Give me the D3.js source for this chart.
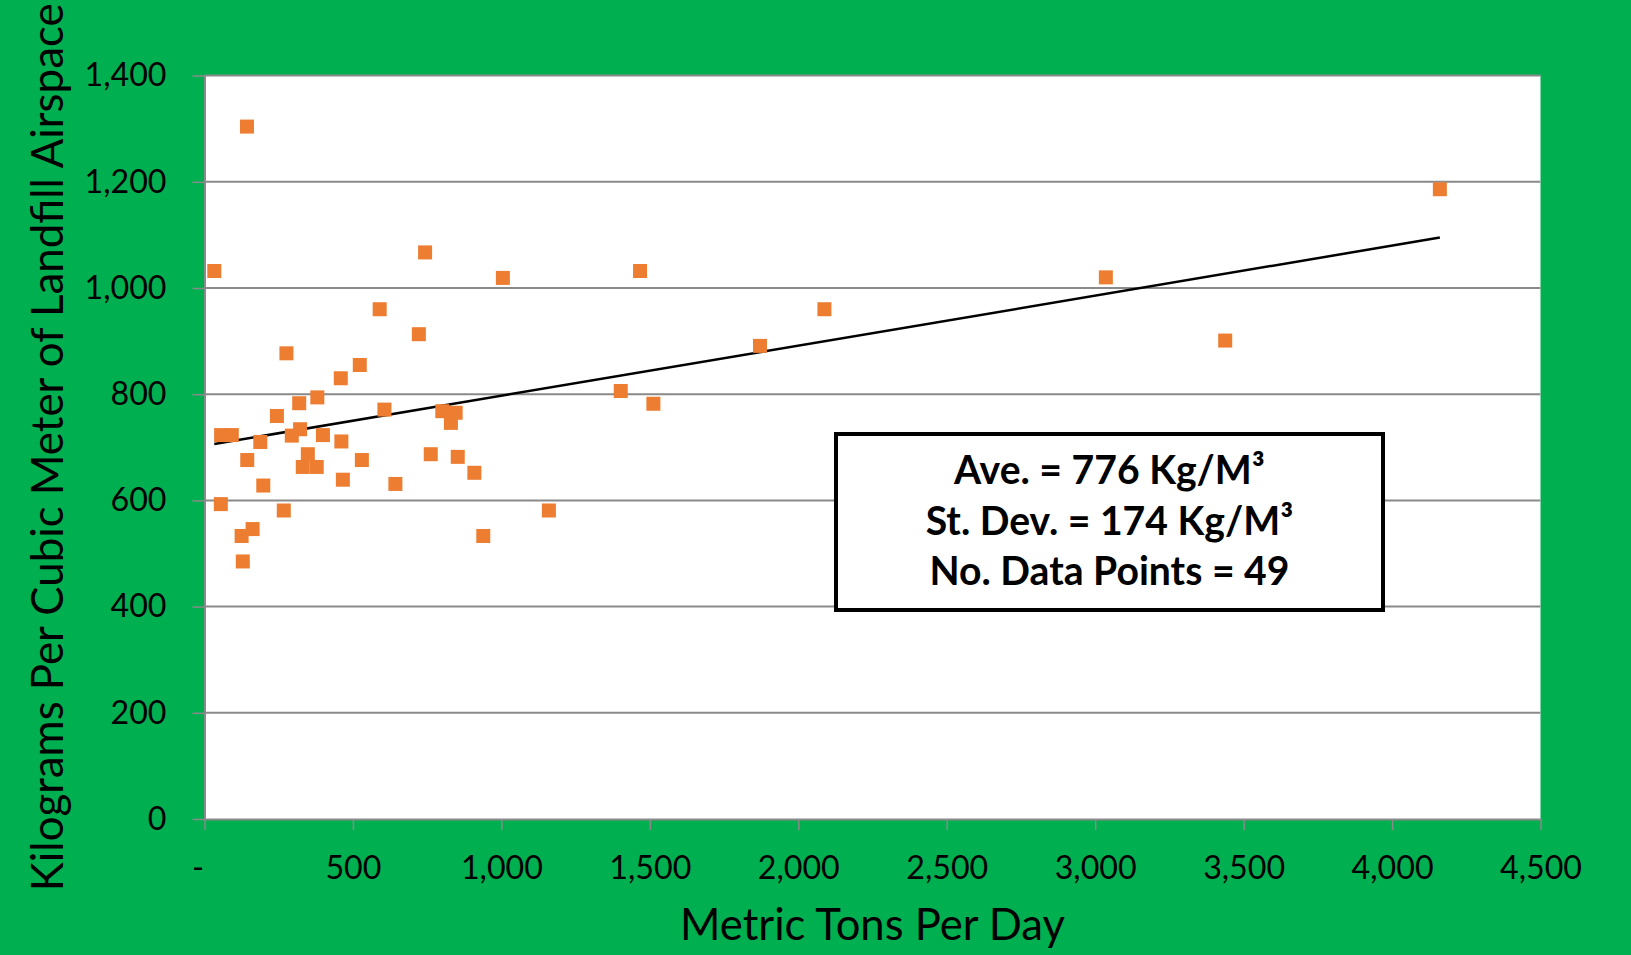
<!DOCTYPE html>
<html>
<head>
<meta charset="utf-8">
<script src="https://cdn.jsdelivr.net/npm/d3@7"></script>
<style>
  html, body { margin: 0; padding: 0; background: #00B050; }
  svg { display: block; }
  text { font-family: Lato, "Open Sans", sans-serif; fill: #000; }
</style>
</head>
<body>
<script>
// Metric tons per day received at each landfill
const tonsPerDay = [
  143, 743, 33, 590, 722, 276, 523, 459, 380, 319,
  244, 606, 801, 846, 830, 56, 92, 322, 294, 399,
  188, 461, 348, 331, 378, 144, 530, 762, 853, 909,
  198, 466, 643, 55, 267, 162, 125, 129, 939, 1005,
  1160, 1467, 1402, 1512, 1871, 2088, 3036, 3438, 4161
];
// Kilograms per cubic meter of landfill airspace (same order)
const kgPerM3 = [
  1304, 1067, 1032, 960, 913, 877, 855, 830, 794, 783,
  759, 771, 768, 765, 746, 723, 723, 734, 722, 723,
  710, 711, 687, 663, 663, 676, 676, 687, 682, 652,
  628, 639, 631, 593, 581, 546, 533, 485, 533, 1019,
  581, 1032, 806, 782, 891, 960, 1020, 901, 1186
];
// Linear trend line
const trendIntercept = 703;
const trendSlope = 0.0942;

const xTicks = [0, 500, 1000, 1500, 2000, 2500, 3000, 3500, 4000, 4500];
const yTicks = [0, 200, 400, 600, 800, 1000, 1200, 1400];
const statLines = ['Ave. = 776 Kg/M³', 'St. Dev. = 174 Kg/M³', 'No. Data Points = 49'];
const xTitle = 'Metric Tons Per Day';
const yTitle = 'Kilograms Per Cubic Meter of Landfill Airspace';

const width = 1631, height = 955;
const margin = {top: 75.6, right: 90.5, bottom: 136, left: 204.5};
const gridColor = '#8a8a8a';

const svg = d3.select('body').append('svg')
  .attr('width', width)
  .attr('height', height);

// green page background
svg.append('rect')
  .attr('width', width).attr('height', height)
  .attr('fill', '#00B050');

const x = d3.scaleLinear().domain([0, 4500]).range([margin.left, width - margin.right]);
const y = d3.scaleLinear().domain([0, 1400]).range([height - margin.bottom, margin.top]);

// white plot area
svg.append('rect')
  .attr('x', x(0)).attr('y', y(1400))
  .attr('width', x(4500) - x(0)).attr('height', y(0) - y(1400))
  .attr('fill', '#fff');

// horizontal gridlines
svg.append('g')
  .selectAll('line')
  .data(yTicks.filter(d => d > 0))
  .join('line')
  .attr('x1', x(0)).attr('x2', x(4500))
  .attr('y1', d => y(d)).attr('y2', d => y(d))
  .attr('stroke', gridColor)
  .attr('stroke-width', 2);

// size a label font so a sample string gets the wanted width
function fitFont(sample, target, weight) {
  const t = svg.append('text').attr('font-size', 100).attr('font-weight', weight || 400).text(sample);
  const w = t.node().getComputedTextLength();
  t.remove();
  return 100 * target / w;
}
const tickFont = fitFont('4,500', 82);

const fmt = d3.format(',');
const xAxis = svg.append('g')
  .attr('transform', 'translate(0,' + y(0) + ')')
  .call(d3.axisBottom(x).tickValues(xTicks)
    .tickFormat(d => d === 0 ? '-' : fmt(d))
    .tickSize(11).tickSizeOuter(0).tickPadding(26));
const yAxis = svg.append('g')
  .attr('transform', 'translate(' + x(0) + ',0)')
  .call(d3.axisLeft(y).tickValues(yTicks)
    .tickFormat(fmt)
    .tickSize(12).tickSizeOuter(0).tickPadding(26));

for (const ax of [xAxis, yAxis]) {
  ax.select('.domain').attr('stroke', gridColor).attr('stroke-width', 2);
  ax.selectAll('.tick line').attr('stroke', gridColor).attr('stroke-width', 1.5);
  ax.selectAll('.tick text')
    .attr('font-size', tickFont)
    .attr('font-family', 'Lato, "Open Sans", sans-serif')
    .attr('fill', '#000');
}
// Excel style dash for zero sits a little left of its tick
xAxis.selectAll('.tick text').filter(d => d === 0).attr('dx', -7);

// trend line across the data range
const xr = d3.extent(tonsPerDay);
svg.append('path')
  .datum(xr)
  .attr('d', d3.line().x(d => x(d)).y(d => y(trendIntercept + trendSlope * d)))
  .attr('stroke', '#000')
  .attr('stroke-width', 2.5)
  .attr('fill', 'none');

// square markers
const size = 14;
svg.append('g')
  .selectAll('rect')
  .data(d3.zip(tonsPerDay, kgPerM3))
  .join('rect')
  .attr('x', d => x(d[0]) - size / 2)
  .attr('y', d => y(d[1]) - size / 2)
  .attr('width', size).attr('height', size)
  .attr('fill', '#ED7D31');

// stats box
const box = {x: 836, y: 434, w: 547, h: 176};
svg.append('rect')
  .attr('x', box.x).attr('y', box.y)
  .attr('width', box.w).attr('height', box.h)
  .attr('fill', '#fff')
  .attr('stroke', '#000')
  .attr('stroke-width', 4);
const boxFont = fitFont(statLines[2], 360, 700);
svg.append('g')
  .selectAll('text')
  .data(statLines)
  .join('text')
  .attr('x', box.x + box.w / 2)
  .attr('y', (d, i) => box.y + 50 + i * 50.5)
  .attr('text-anchor', 'middle')
  .attr('font-weight', 700)
  .attr('font-size', boxFont)
  .text(d => d);

// axis titles
svg.append('text')
  .attr('x', (x(0) + x(4500)) / 2)
  .attr('y', 940)
  .attr('text-anchor', 'middle')
  .attr('font-size', fitFont(xTitle, 385))
  .text(xTitle);

svg.append('text')
  .attr('transform', 'translate(63,' + (y(0) + y(1400)) / 2 + ') rotate(-90)')
  .attr('text-anchor', 'middle')
  .attr('font-size', fitFont(yTitle, 888))
  .text(yTitle);
</script>
</body>
</html>
